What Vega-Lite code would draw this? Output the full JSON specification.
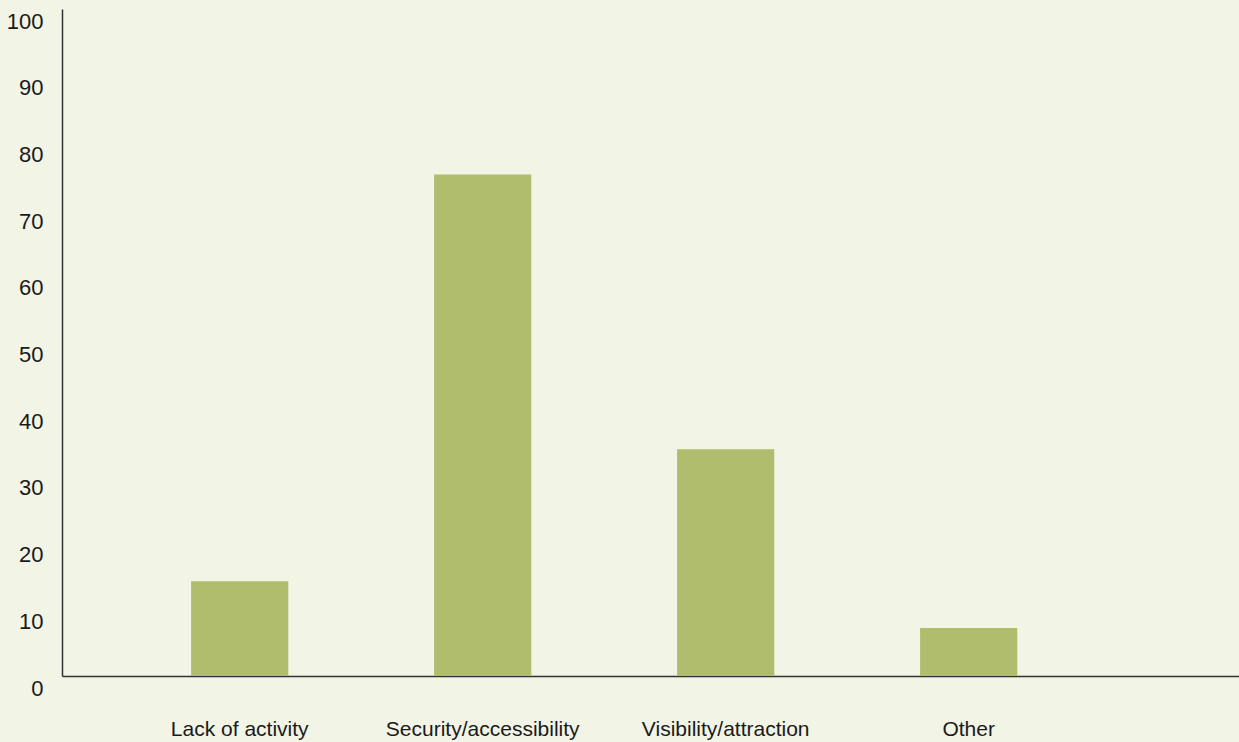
{
  "$schema": "https://vega.github.io/schema/vega-lite/v6.json",
  "width": 1177,
  "height": 667,
  "autosize": {"type": "none"},
  "padding": {"left": 62, "top": 9, "right": 0, "bottom": 66},
  "background": "#f2f4e6",
  "config": {
    "view": {"stroke": null},
    "font": "Liberation Sans"
  },
  "data": {
    "values": [
      {"category": "Lack of activity", "value": 14.2},
      {"category": "Security/accessibility", "value": 75.2},
      {"category": "Visibility/attraction", "value": 34.0},
      {"category": "Other", "value": 7.2}
    ]
  },
  "mark": {"type": "bar", "color": "#b0bd6c"},
  "encoding": {
    "x": {
      "field": "category",
      "type": "nominal",
      "sort": null,
      "scale": {"paddingInner": 0.6, "paddingOuter": 0.722, "align": 0.368},
      "axis": {
        "title": null,
        "labelAngle": 0,
        "ticks": false,
        "labelLimit": 0,
        "labelPadding": 42,
        "labelFontSize": 21,
        "labelColor": "#1a1a1a",
        "domainColor": "#333333",
        "domainWidth": 1.5,
        "grid": false
      }
    },
    "y": {
      "field": "value",
      "type": "quantitative",
      "scale": {"domain": [0, 100], "nice": false},
      "axis": {
        "title": null,
        "values": [0, 10, 20, 30, 40, 50, 60, 70, 80, 90, 100],
        "ticks": false,
        "grid": false,
        "labelPadding": 19,
        "labelOffset": 12,
        "labelFontSize": 22,
        "labelColor": "#1a1a1a",
        "domainColor": "#333333",
        "domainWidth": 1.5
      }
    }
  }
}
